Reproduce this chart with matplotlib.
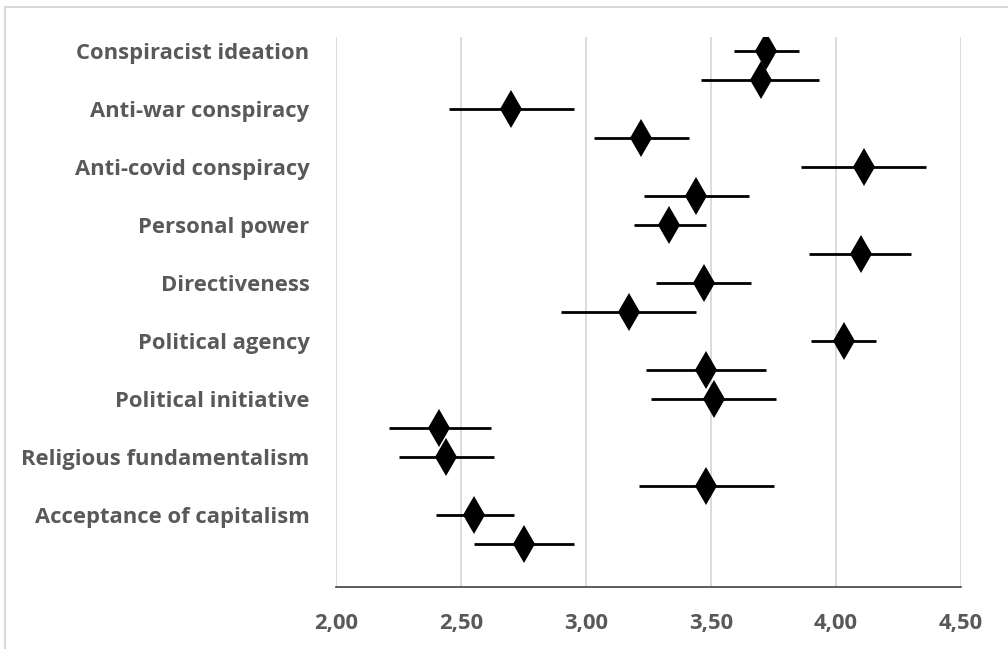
import matplotlib
matplotlib.use("Agg")
import matplotlib.pyplot as plt
from matplotlib.patches import Rectangle
import numpy as np

categories = ["Conspiracist ideation", "Anti-war conspiracy", "Anti-covid conspiracy",
              "Personal power", "Directiveness", "Political agency",
              "Political initiative", "Religious fundamentalism", "Acceptance of capitalism"]

means = [3.72, 3.70, 2.70, 3.22, 4.11, 3.44, 3.33, 4.10, 3.47,
         3.17, 4.03, 3.48, 3.51, 2.41, 2.44, 3.48, 2.55, 2.75]
lower = [3.59, 3.46, 2.45, 3.03, 3.86, 3.23, 3.19, 3.89, 3.28,
         2.90, 3.90, 3.24, 3.26, 2.21, 2.25, 3.21, 2.40, 2.55]
upper = [3.85, 3.93, 2.95, 3.41, 4.36, 3.65, 3.48, 4.30, 3.66,
         3.44, 4.16, 3.72, 3.76, 2.62, 2.63, 3.75, 2.71, 2.95]

xticks = [2.0, 2.5, 3.0, 3.5, 4.0, 4.5]
xticklabels = ["2,00", "2,50", "3,00", "3,50", "4,00", "4,50"]

W, H = 1008, 649
fig = plt.figure(figsize=(W / 100, H / 100), dpi=100)
fig.patch.set_facecolor("white")

# chart border
fig.patches.append(Rectangle((5 / W, -0.2), 1.5, 1 - 7 / H + 0.2, transform=fig.transFigure,
                             fill=False, edgecolor="#d9d9d9", linewidth=1.5))

left, right, top, bottom = 336, 961, 37, 587
ax = fig.add_axes([left / W, 1 - bottom / H, (right - left) / W, (bottom - top) / H])

y = np.arange(len(means))
m = np.array(means)
xerr = np.vstack([m - np.array(lower), np.array(upper) - m])
ax.errorbar(m, y, xerr=xerr, fmt="d", color="black", ecolor="black", elinewidth=2.0,
            capsize=0, markersize=19, markeredgewidth=0, zorder=3)

ax.set_xlim(2.0, 4.5)
ax.set_ylim(18.5, -0.5)
ax.set_xticks(xticks)
ax.set_xticklabels(xticklabels)
ax.set_yticks(np.arange(0, 2 * len(categories), 2))
ax.set_yticklabels(categories)

for lab in ax.get_xticklabels() + ax.get_yticklabels():
    lab.set_fontfamily("Open Sans")
    lab.set_fontweight("bold")
    lab.set_fontsize(15.8)
    lab.set_color("#595959")

ax.tick_params(axis="y", length=0, pad=19)
ax.tick_params(axis="x", length=0, pad=19)
ax.grid(axis="x", color="#d9d9d9", linewidth=1.3, zorder=0)
ax.set_axisbelow(True)
for s in ["top", "right", "left"]:
    ax.spines[s].set_visible(False)
ax.spines["bottom"].set_color("#404040")
ax.spines["bottom"].set_linewidth(1.2)

fig.savefig("out.png", dpi=100)
